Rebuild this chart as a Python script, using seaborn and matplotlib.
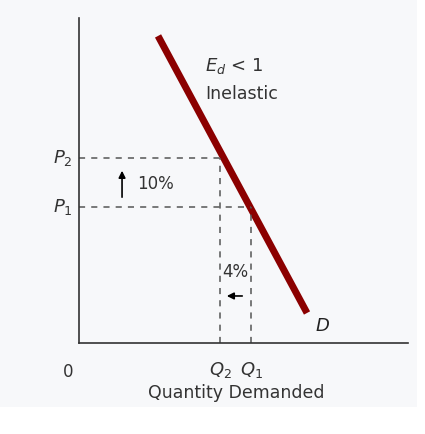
import matplotlib
matplotlib.use("Agg")
import matplotlib.pyplot as plt
import seaborn as sns
import pandas as pd
from matplotlib.patches import Rectangle

sns.set_style("white")
plt.rcParams['font.family'] = ['DejaVu Sans']

demand_q = [79, 228]
demand_p = [307, 30]
price_levels = [185, 136]      # P2, P1
quantity_levels = [141, 172]   # Q2, Q1

fig = plt.figure(figsize=(4.25, 4.34), dpi=100)
bg = Rectangle((0.0, 0.062), 0.98, 0.938, transform=fig.transFigure,
               facecolor="#f7f8fa", edgecolor="none", zorder=-10)
fig.add_artist(bg)
ax = fig.add_axes([0.186, 0.2097, 0.774, 0.749])
ax.set_zorder(5)
ax.set_facecolor("#f7f8fa")
df = pd.DataFrame({"q": demand_q, "p": demand_p})
sns.lineplot(data=df, x="q", y="p", ax=ax, color="#8b0000", linewidth=5, solid_capstyle="butt")
ax.set_xlim(0, 329)
ax.set_ylim(0, 325)
for s in ["top", "right"]:
    ax.spines[s].set_visible(False)
for s in ["left", "bottom"]:
    ax.spines[s].set_color("#333333")
    ax.spines[s].set_linewidth(1.2)
ax.set_xticks([]); ax.set_yticks([])
ax.set_xlabel(""); ax.set_ylabel("")

dash = dict(color="#555555", linestyle=(0, (4, 4)), linewidth=1.1)
ax.plot([0, quantity_levels[0]], [price_levels[0]] * 2, **dash)
ax.plot([0, quantity_levels[1]], [price_levels[1]] * 2, **dash)
ax.plot([quantity_levels[0]] * 2, [0, price_levels[0]], **dash)
ax.plot([quantity_levels[1]] * 2, [0, price_levels[1]], **dash)

ax.annotate("", xy=(43, 175), xytext=(43, 143),
            arrowprops=dict(arrowstyle="-|>", color="black", lw=1.2, mutation_scale=10))
ax.text(58, 159, "10%", fontsize=12, color="#333333", va="center")
ax.text(156, 71, "4%", fontsize=12, color="#333333", va="center", ha="center")
ax.annotate("", xy=(145, 47), xytext=(166, 47),
            arrowprops=dict(arrowstyle="-|>", color="black", lw=1.2, mutation_scale=10))
ax.text(126, 277, r"$E_d$ < 1", fontsize=13, color="#333333", va="center")
ax.text(126, 249, "Inelastic", fontsize=12.5, color="#333333", va="center")
ax.text(237, 17, "D", fontsize=13, style="italic", color="#222222", va="center")

ax.text(-6, price_levels[0], r"$P_2$", fontsize=13, color="#333333", ha="right", va="center")
ax.text(-6, price_levels[1], r"$P_1$", fontsize=13, color="#333333", ha="right", va="center")
ax.text(-6, -29, "0", fontsize=12, color="#333333", ha="right", va="center")
ax.text(quantity_levels[0], -27, r"$Q_2$", fontsize=13, color="#333333", ha="center", va="center")
ax.text(quantity_levels[1], -27, r"$Q_1$", fontsize=13, color="#333333", ha="center", va="center")
ax.text(157, -50, "Quantity Demanded", fontsize=12.5, color="#333333", ha="center", va="center")

fig.savefig("out.png", dpi=100)
